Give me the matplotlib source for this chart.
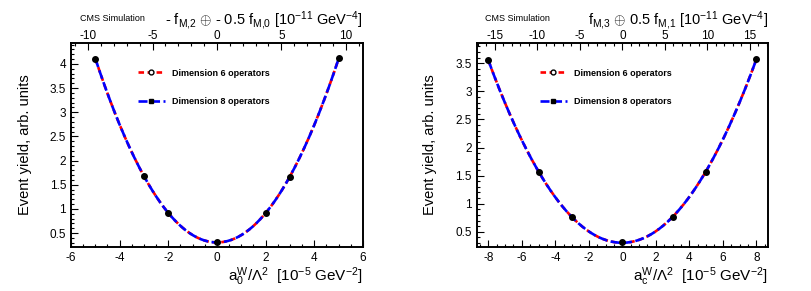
import numpy as np
import matplotlib
matplotlib.use('Agg')
import matplotlib.pyplot as plt
from matplotlib.lines import Line2D
from matplotlib.ticker import MultipleLocator, FuncFormatter

plt.rcParams['font.family'] = ['Liberation Sans', 'DejaVu Sans']
plt.rcParams['mathtext.fontset'] = 'custom'
plt.rcParams['mathtext.rm'] = 'Liberation Sans'
plt.rcParams['mathtext.it'] = 'Liberation Sans'
plt.rcParams['mathtext.bf'] = 'Liberation Sans:bold'
plt.rcParams['lines.scale_dashes'] = False

# left panel: a0W scan
x_a0 = [-5, -3, -2, 0, 2, 3, 5]
y_a0 = [4.10, 1.69, 0.92, 0.31, 0.91, 1.65, 4.12]
# right panel: aCW scan
x_ac = [-8, -5, -3, 0, 3, 5, 8]
y_ac = [3.55, 1.57, 0.76, 0.31, 0.76, 1.57, 3.57]

xlabel_a0 = r'$\mathregular{a_0^W/\Lambda^2}$  [10$^{\mathregular{-5}}$ GeV$^{\mathregular{-2}}$]'
xlabel_ac = r'$\mathregular{a_c^W/\Lambda^2}$  [10$^{\mathregular{-5}}$ GeV$^{\mathregular{-2}}$]'
top_a0 = r'- f$_{\mathregular{M{,}2}}$ $\oplus$ - 0.5 f$_{\mathregular{M{,}0}}$ [10$^{\mathregular{-11}}$ GeV$^{\mathregular{-4}}$]'
top_ac = r'f$_{\mathregular{M{,}3}}$ $\oplus$ 0.5 f$_{\mathregular{M{,}1}}$ [10$^{\mathregular{-11}}$ GeV$^{\mathregular{-4}}$]'
labels = ['Dimension 6 operators', 'Dimension 8 operators']

fig = plt.figure(figsize=(8.12, 2.91), dpi=100)

fmt = FuncFormatter(lambda v, p: '%g' % v)


def panel(rect, xs, ys, xlim, ylim, toplim, xmaj, ymaj, xlabel, toplabel, leg_x):
    ax = fig.add_axes(rect)
    xs = np.array(xs, float)
    ys = np.array(ys, float)
    c = np.polyfit(xs, ys, 2)
    xf = np.linspace(xs.min(), xs.max(), 200)
    yf = np.polyval(c, xf)
    ax.plot(xf, yf, color='red', lw=1.9, dashes=[4, 2.5])
    ax.plot(xf, yf, color='blue', lw=1.9, dashes=[6.5, 2.5])
    ax.plot(xs, ys, 'o', color='black', ms=4, zorder=5)
    ax.set_xlim(*xlim)
    ax.set_ylim(*ylim)
    ax.xaxis.set_major_locator(MultipleLocator(xmaj))
    ax.xaxis.set_minor_locator(MultipleLocator(xmaj / 4))
    ax.yaxis.set_major_locator(MultipleLocator(ymaj))
    ax.yaxis.set_minor_locator(MultipleLocator(0.1))
    ax.xaxis.set_major_formatter(fmt)
    ax.yaxis.set_major_formatter(fmt)
    ax.tick_params(which='both', direction='in', top=False, right=False, labelsize=8.5, width=0.8)
    ax.tick_params(which='major', length=5)
    ax.tick_params(which='minor', length=2.5)
    for s in ax.spines.values():
        s.set_linewidth(1.2)
    ax.set_xlabel(xlabel, fontsize=11, loc='right', labelpad=1)
    ax.set_ylabel('Event yield, arb. units', fontsize=10.5, labelpad=13)

    top = ax.twiny()
    top.set_xlim(*toplim)
    top.xaxis.set_major_locator(MultipleLocator(5))
    top.xaxis.set_minor_locator(MultipleLocator(1))
    top.xaxis.set_major_formatter(fmt)
    top.tick_params(which='both', direction='in', labelsize=8.5, width=0.8, pad=0.5)
    top.tick_params(which='major', length=5)
    top.tick_params(which='minor', length=2.5)
    for s in top.spines.values():
        s.set_linewidth(1.2)
    top.set_xlabel(toplabel, fontsize=10.5, loc='right', labelpad=4)
    ax.text(0.03, 1.11, 'CMS Simulation', transform=ax.transAxes, fontsize=6.5, va='baseline')

    handles = [
        Line2D([], [], color='red', lw=1.9, dashes=[4, 2.5], marker='o', ms=3.5,
               mfc='white', mec='black', mew=1),
        Line2D([], [], color='blue', lw=1.9, dashes=[6.5, 2.5], marker='s', ms=2.5,
               mfc='black', mec='black'),
    ]
    ax.legend(handles, labels, loc='upper left', bbox_to_anchor=(leg_x, 0.875),
              frameon=False, prop={'size': 6.5, 'weight': 'bold'},
              handlelength=3.0, handletextpad=0.8, labelspacing=2.2,
              borderpad=0, borderaxespad=0)
    return ax


panel([0.0874, 0.151, 0.3596, 0.701], x_a0, y_a0, (-6, 6), (0.21, 4.43), (-11.34, 11.34),
      2, 0.5, xlabel_a0, top_a0, 0.229)
panel([0.587, 0.151, 0.3588, 0.701], x_ac, y_ac, (-8.7, 8.7), (0.227, 3.86), (-17.16, 17.16),
      2, 0.5, xlabel_ac, top_ac, 0.217)

fig.savefig('out.png', dpi=100)
